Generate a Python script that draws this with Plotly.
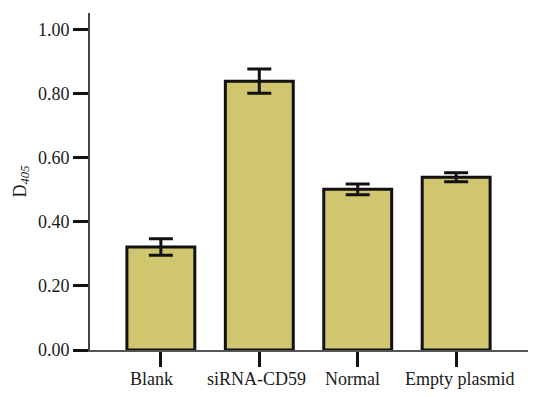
import plotly.graph_objects as go

categories = ["Blank", "siRNA-CD59", "Normal", "Empty plasmid"]
values = [0.322, 0.840, 0.502, 0.540]
errors = [0.026, 0.038, 0.017, 0.014]
y_ticks = [0.0, 0.2, 0.4, 0.6, 0.8, 1.0]
y_tick_labels = ["0.00", "0.20", "0.40", "0.60", "0.80", "1.00"]

# small horizontal nudges of the category labels, as in the original figure
label_nudges = [-9, -3, -5, 4]

fig = go.Figure()
fig.add_trace(go.Bar(
    x=categories,
    y=values,
    marker=dict(color="#cfc66f", line=dict(color="#111111", width=3)),
    error_y=dict(type="data", array=errors, visible=True,
                 color="#111111", thickness=3, width=12),
    width=0.69,
))

font_family = "Liberation Serif, Times New Roman, serif"
for cat, nudge in zip(categories, label_nudges):
    fig.add_annotation(
        x=cat, xref="x", y=0, yref="paper",
        text=cat, showarrow=False,
        xanchor="center", yanchor="top",
        xshift=nudge, yshift=-17,
        font=dict(family=font_family, size=18, color="#1a1a1a"),
    )

# page body has an 8px default margin, so the figure is sized to fit inside it
fig.update_layout(
    width=540, height=389,
    margin=dict(l=82, r=20, t=5, b=47),
    paper_bgcolor="white", plot_bgcolor="white",
    showlegend=False,
    font=dict(family=font_family, size=18, color="#1a1a1a"),
    xaxis=dict(
        range=[-0.72, 3.73], automargin=False,
        showline=True, linecolor="#555555", linewidth=1.5,
        ticks="outside", ticklen=15, tickwidth=3, tickcolor="#111111",
        showgrid=False, zeroline=False, showticklabels=False,
    ),
    yaxis=dict(
        range=[0, 1.053], automargin=False,
        tickvals=y_ticks, ticktext=y_tick_labels,
        showline=True, linecolor="#444444", linewidth=2,
        ticks="outside", ticklen=15, tickwidth=3, tickcolor="#111111",
        showgrid=False, zeroline=False,
        tickfont=dict(family=font_family, size=18, color="#1a1a1a"),
        title=dict(text="D<sub><i>405</i></sub>", standoff=7,
                   font=dict(family=font_family, size=18, color="#1a1a1a")),
    ),
)

fig.write_html("out.html")
